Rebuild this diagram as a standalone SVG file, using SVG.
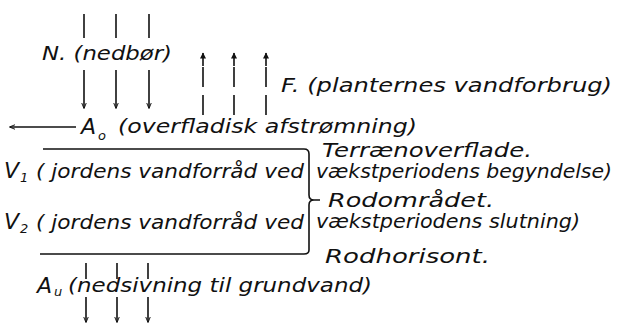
<svg xmlns="http://www.w3.org/2000/svg" width="619" height="326" viewBox="0 0 619 326">
<defs>
<marker id="ah" viewBox="0 0 10 10" refX="9" refY="5" markerWidth="6" markerHeight="8" orient="auto" markerUnits="userSpaceOnUse">
<path d="M0,1 L10,5 L0,9" fill="none" stroke="#111" stroke-width="1.6"/>
</marker>
<marker id="ahf" viewBox="0 0 10 10" refX="9" refY="5" markerWidth="10" markerHeight="6" orient="auto" markerUnits="userSpaceOnUse">
<path d="M0,0 L10,5 L0,10 Z" fill="#111"/>
</marker>
</defs>
<style>
.t{font-family:"DejaVu Sans","Liberation Sans",sans-serif;font-style:italic;fill:#111;font-size:19px}
.c{font-family:"DejaVu Sans","Liberation Sans",sans-serif;font-style:italic;fill:#111;font-size:22px}
.s{font-family:"DejaVu Sans","Liberation Sans",sans-serif;font-style:italic;fill:#111;font-size:13px}
.l{stroke:#111;stroke-width:1.6;fill:none}
.d{stroke:#111;stroke-width:1.6;fill:none;stroke-dasharray:20 8}
</style>
<rect width="619" height="326" fill="#fff"/>
<g id="connectors">
<line class="l" x1="84" y1="14" x2="84" y2="38"/>
<line class="l" x1="116" y1="14" x2="116" y2="38"/>
<line class="l" x1="149" y1="14" x2="149" y2="38"/>
<line class="l" x1="84" y1="70" x2="84" y2="108" marker-end="url(#ah)"/>
<line class="l" x1="116" y1="70" x2="116" y2="108" marker-end="url(#ah)"/>
<line class="l" x1="149" y1="70" x2="149" y2="108" marker-end="url(#ah)"/>
<line class="d" x1="203" y1="115" x2="203" y2="64"/>
<line class="d" x1="234" y1="115" x2="234" y2="64"/>
<line class="d" x1="266" y1="115" x2="266" y2="64"/>
<line class="l" x1="203" y1="66" x2="203" y2="53" marker-end="url(#ahf)"/>
<line class="l" x1="234" y1="66" x2="234" y2="53" marker-end="url(#ahf)"/>
<line class="l" x1="266" y1="66" x2="266" y2="53" marker-end="url(#ahf)"/>
<line class="l" x1="76" y1="127" x2="10" y2="127" marker-end="url(#ah)"/>
<line class="l" x1="86" y1="263" x2="86" y2="279"/>
<line class="l" x1="117" y1="263" x2="117" y2="279"/>
<line class="l" x1="148" y1="263" x2="148" y2="279"/>
<line class="l" x1="86" y1="297" x2="86" y2="322" marker-end="url(#ah)"/>
<line class="l" x1="117" y1="297" x2="117" y2="322" marker-end="url(#ah)"/>
<line class="l" x1="148" y1="297" x2="148" y2="322" marker-end="url(#ah)"/>
</g>
<g id="soil">
<path class="l" d="M43,149 L304,149 Q309,149 309,154 L309,195 Q309,200 314,200 L320,200 M314,200 Q309,200 309,205 L309,250 Q309,254 304,254 L40,254"/>
</g>
<g id="n-label"><text class="t" x="42" y="60" textLength="130" lengthAdjust="spacingAndGlyphs">N. (nedbør)</text></g>
<g id="f-label"><text class="t" x="281" y="92" textLength="331" lengthAdjust="spacingAndGlyphs">F. (planternes vandforbrug)</text></g>
<g id="a0-label"><text class="c" x="81" y="134">A</text><text class="s" x="98" y="140">o</text><text class="t" x="118" y="133" textLength="299" lengthAdjust="spacingAndGlyphs">(overfladisk afstrømning)</text></g>
<g id="terraen"><text class="t" x="322" y="157" textLength="210" lengthAdjust="spacingAndGlyphs">Terrænoverflade.</text></g>
<g id="v1-label"><text class="c" x="4" y="178">V</text><text class="s" x="20" y="182">1</text><text class="t" x="36" y="178" textLength="268" lengthAdjust="spacingAndGlyphs">( jordens vandforråd ved</text><text class="t" x="316" y="178" font-size="18" textLength="296" lengthAdjust="spacingAndGlyphs">vækstperiodens begyndelse)</text></g>
<g id="rodomraadet"><text class="t" x="328" y="207" textLength="166" lengthAdjust="spacingAndGlyphs">Rodområdet.</text></g>
<g id="v2-label"><text class="c" x="4" y="229">V</text><text class="s" x="20" y="233">2</text><text class="t" x="36" y="229" textLength="268" lengthAdjust="spacingAndGlyphs">( jordens vandforråd ved</text><text class="t" x="316" y="228" font-size="18" textLength="264" lengthAdjust="spacingAndGlyphs">vækstperiodens slutning)</text></g>
<g id="rodhorisont"><text class="t" x="325" y="263" textLength="165" lengthAdjust="spacingAndGlyphs">Rodhorisont.</text></g>
<g id="au-label"><text class="c" x="37" y="293">A</text><text class="s" x="54" y="296">u</text><text class="t" x="68" y="292" textLength="304" lengthAdjust="spacingAndGlyphs">(nedsivning til grundvand)</text></g>
</svg>
